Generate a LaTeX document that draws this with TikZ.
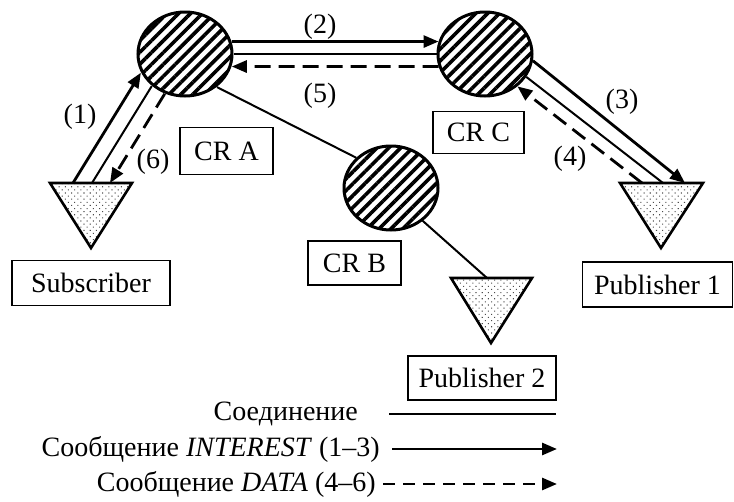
\documentclass[tikz,border=0pt]{standalone}
\usepackage{fontspec}
\setmainfont{Liberation Serif}
\usetikzlibrary{shapes.geometric, arrows.meta, patterns.meta}

\begin{document}
\begin{tikzpicture}[x=1pt, y=-1pt,
  font=\fontsize{28}{31}\selectfont,
  router/.style={ellipse, draw, line width=3pt, minimum width=94pt,
    minimum height=84pt, inner sep=0pt,
    pattern={Lines[angle=45, distance=8.4pt, line width=3.6pt]}},
  term/.style={draw, line width=2.6pt, line join=miter,
    pattern={Dots[radius=0.75pt, distance=4.4pt, angle=45]}, pattern color=black!70},
  tag/.style={draw, line width=1.4pt, inner sep=0pt},
  conn/.style={line width=2pt},
  interest/.style={line width=2.8pt, -{Triangle[length=15pt, width=12pt]}},
  data/.style={line width=2.8pt, dash pattern=on 16pt off 8pt, -{Triangle[length=15pt, width=12pt]}},
  datalegend/.style={line width=2.8pt, dash pattern=on 12pt off 8pt, -{Triangle[length=15pt, width=12pt]}},
  num/.style={inner sep=0pt}
]
\useasboundingbox (0,0) rectangle (734,501);

% content routers
\node[router] (A) at (185,54) {};
\node[router] (C) at (485,54) {};
\node[router] (B) at (391,188) {};

% end points (downward triangles)
\draw[term] (50,183) -- (132,183) -- (91,248) -- cycle;
\draw[term] (620,183) -- (703,183) -- (661,248) -- cycle;
\draw[term] (451,278) -- (532,278) -- (491,343) -- cycle;

% points on the top edges of the triangles
\coordinate (s1) at (73,183);
\coordinate (s2) at (92,183);
\coordinate (s3) at (110,183);
\coordinate (p1) at (685,183);
\coordinate (p2) at (663,183);
\coordinate (p3) at (642,183);
\coordinate (q2) at (487,278);

% labels
\node[tag, minimum width=158pt, minimum height=45pt] (sub) at (91,283) {Subscriber};
\node[tag, minimum width=93pt, minimum height=47pt] (cra) at (226.5,151) {CR A};
\node[tag, minimum width=91pt, minimum height=42pt] (crc) at (478.5,132.5) {CR C};
\node[tag, minimum width=93pt, minimum height=44pt] (crb) at (354.5,263) {CR B};
\node[tag, minimum width=150pt, minimum height=45pt] (pub1) at (657.5,284.5) {Publisher 1};
\node[tag, minimum width=148pt, minimum height=44pt] (pub2) at (482,378) {Publisher 2};

% subscriber <-> CR A
\draw[interest] (s1) -- (A.203);
\draw[conn] (s2) -- (A.224);
\draw[data] (A.243) -- (s3);

% CR A <-> CR C
\draw[interest] (A.15) -- (C.165);
\draw[conn] (A) -- (C);
\draw[data] (C.195) -- (A.345);

% CR C <-> publisher 1
\draw[interest] (C.352) -- (p1);
\draw[conn] (C.331) -- (p2);
\draw[data] (p3) -- (C.315);

% CR A -- CR B -- publisher 2
\draw[conn] (A.314) -- (B.139);
\draw[conn] (B.314) -- (q2);

% message numbers
\node[num] (n1) at (80,117) {(1)};
\node[num] (n6) at (153,162) {(6)};
\node[num] (n2) at (320,27) {(2)};
\node[num] (n5) at (320,96) {(5)};
\node[num] (n3) at (622,102) {(3)};
\node[num] (n4) at (570,159) {(4)};

% legend
\node[num, anchor=east] (lc) at (358,414) {Соединение};
\node[num, anchor=east] (li) at (380,449) {Сообщение \textit{INTEREST} (1–3)};
\node[num, anchor=east] (ld) at (376,484) {Сообщение \textit{DATA} (4–6)};
\coordinate (lc1) at (389,414);
\coordinate (lc2) at (556,414);
\coordinate (li1) at (392,449);
\coordinate (li2) at (557,449);
\coordinate (ld1) at (383,484);
\coordinate (ld2) at (557,484);
\draw[conn] (lc1) -- (lc2);
\draw[interest] (li1) -- (li2);
\draw[datalegend] (ld1) -- (ld2);
\end{tikzpicture}
\end{document}
